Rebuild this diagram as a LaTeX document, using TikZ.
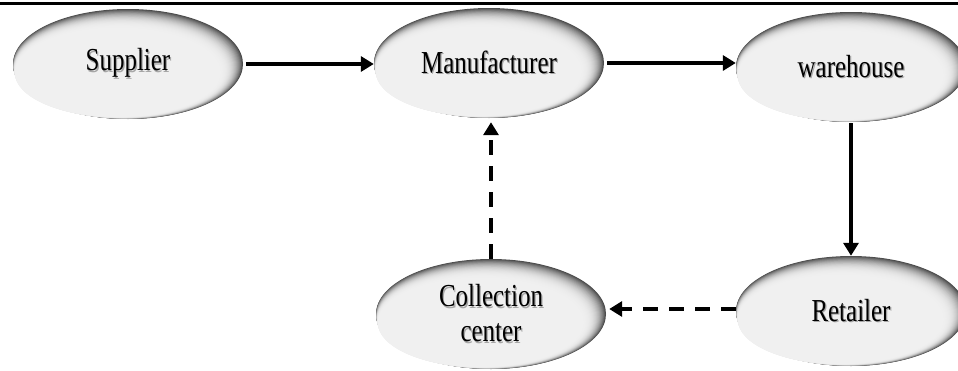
\documentclass[tikz,border=0pt]{standalone}
\usepackage{fontspec}
\usepackage{graphicx}
\setmainfont{Liberation Serif}
\usetikzlibrary{arrows.meta,shapes.geometric}
\newcommand\bevelell[2]{%
  \foreach \t in {0,0.04,...,1.001}{%
    \pgfmathsetmacro\c{6+64*(1-\t)^3}%
    \fill[black!\c] ({#1-11*\t},{#2+9*\t}) ellipse [x radius={115pt-13pt*\t}, y radius={55pt-11pt*\t}];
  }%
}
\newcommand\sh[1]{\scalebox{0.78}[1]{\leavevmode\rlap{\kern1.6pt\raisebox{-1.6pt}{\color{black!35}#1}}#1}}
\tikzset{
  blob/.style={ellipse, minimum width=230pt, minimum height=110pt,
    inner sep=0pt, align=center, font=\fontsize{32}{35}\selectfont},
  arr/.style={line width=3.5pt, -{Triangle[length=13pt,width=15pt]}},
  darr/.style={arr, dash pattern=on 15pt off 11pt},
}
\begin{document}
\begin{tikzpicture}[x=1pt,y=-1pt]
\useasboundingbox (0,0) rectangle (958,370);
\fill[white] (0,0) rectangle (958,370);
\coordinate (tl) at (0,3.7);
\coordinate (tr) at (958,3.7);
\draw[line width=2.6pt] (tl) -- (tr);
\bevelell{128}{64}
\bevelell{489}{63}
\bevelell{851}{67}
\bevelell{491}{314}
\bevelell{851}{311}
\node[blob] (sup) at (128,64) {\sh{Supplier}};
\node[blob] (man) at (489,63) {\sh{Manufacturer}};
\node[blob] (war) at (851,67) {\sh{warehouse}};
\node[blob] (col) at (491,314) {\sh{Collection}\\\sh{center}};
\node[blob] (ret) at (851,311) {\sh{Retailer}};
\draw[arr, shorten <=3pt] (sup.east) -- (sup.east -| man.west);
\draw[arr, shorten <=3pt] (man.east) -- (man.east -| war.west);
\draw[arr, shorten <=1pt] (war.south) -- (ret.north);
\draw[darr, shorten >=4pt] (col.north) -- (col.north |- man.south);
\draw[darr, shorten >=3pt] ([yshift=2pt]ret.west) -- ([yshift=2pt]ret.west -| col.east);
\end{tikzpicture}
\end{document}
